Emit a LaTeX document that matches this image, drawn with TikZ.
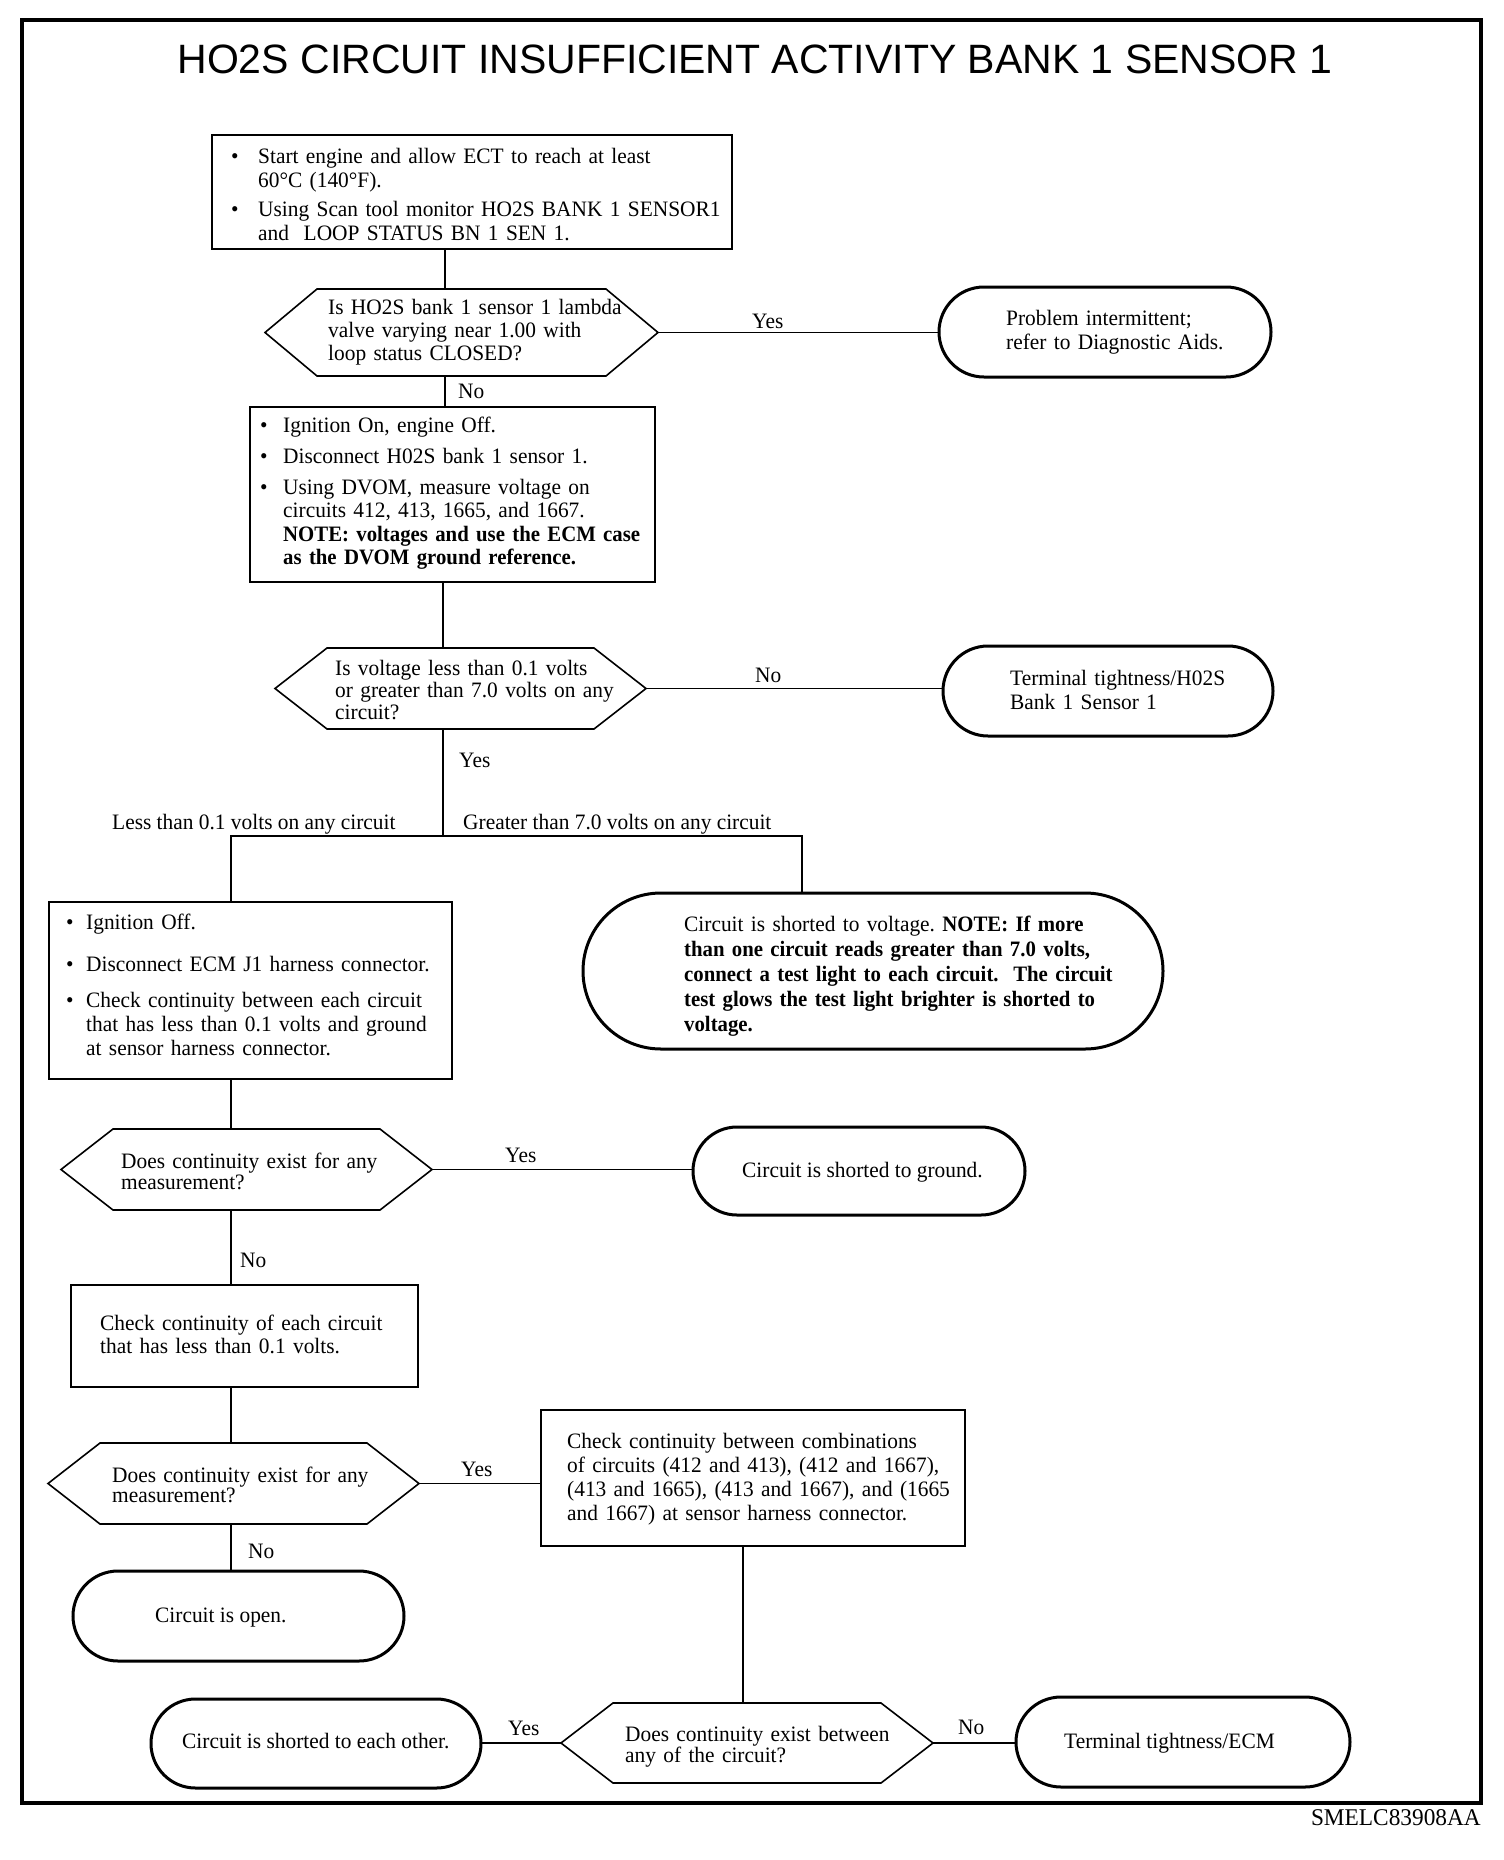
\documentclass[tikz,border=0pt]{standalone}
\usepackage{fontspec}
\setmainfont{Liberation Serif}[FakeStretch=0.972, BoldFeatures={FakeStretch=0.945}]
\newfontfamily\titlefont{Liberation Sans}
\newcommand\hexdraw[2]{\draw[hexline] ([xshift=#2]#1.north west) -- ([xshift=-#2]#1.north east) -- (#1.east) -- ([xshift=-#2]#1.south east) -- ([xshift=#2]#1.south west) -- (#1.west) -- cycle;}
\newcommand\bul[1]{\makebox[#1][l]{\textbullet}}
\frenchspacing
\begin{document}
\begin{tikzpicture}[x=1pt,y=-1pt,
  box/.style={draw, line width=2.2pt, rectangle, inner sep=0pt, outer sep=0pt},
  term/.style={draw, line width=3pt, rectangle, rounded corners=#1, inner sep=0pt, outer sep=0pt},
  hexn/.style={rectangle, inner sep=0pt, outer sep=0pt},
  hexline/.style={line width=1.6pt, line join=miter},
  conn/.style={line width=1.8pt},
  txt/.style={anchor=base west, inner sep=0pt, text width=700pt, align=left, font=\fontsize{22pt}{#1}\selectfont},
  lbl/.style={anchor=base west, inner sep=0pt, font=\fontsize{22pt}{24pt}\selectfont}]
\useasboundingbox (0,0) rectangle (1504,1860);
% frame, title, caption
\draw[line width=4pt] (22,20) rectangle (1481,1803);
\node[anchor=base, inner sep=0pt, font=\titlefont\fontsize{41pt}{41pt}\selectfont] (title) at (755,74) {HO2S CIRCUIT INSUFFICIENT ACTIVITY BANK 1 SENSOR 1};
\node[anchor=base east, inner sep=0pt, font=\fontsize{24pt}{24pt}\selectfont] (cap) at (1481,1825) {SMELC83908AA};
% shapes
\node[box, minimum width=520pt, minimum height=114pt] (b1) at (472,192) {};
\node[hexn, minimum width=393pt, minimum height=87pt] (d1) at (461.5,332.5) {};
\node[term=45pt, minimum width=332pt, minimum height=90pt] (o1) at (1105,332) {};
\node[box, minimum width=405pt, minimum height=175pt] (b2) at (452.5,494.5) {};
\node[hexn, minimum width=371pt, minimum height=81pt] (d2) at (460.5,688.5) {};
\node[term=45pt, minimum width=330pt, minimum height=90pt] (o2) at (1108,691) {};
\node[box, minimum width=403pt, minimum height=177pt] (b3) at (250.5,990.5) {};
\node[term=78pt, minimum width=580pt, minimum height=156pt] (o3) at (873,971) {};
\node[hexn, minimum width=371pt, minimum height=81pt] (d3) at (246.5,1169.5) {};
\node[term=44pt, minimum width=332pt, minimum height=88pt] (o4) at (859,1171) {};
\node[box, minimum width=347pt, minimum height=102pt] (b4) at (244.5,1336) {};
\node[hexn, minimum width=371pt, minimum height=81pt] (d4) at (233.5,1483.5) {};
\node[box, minimum width=424pt, minimum height=136pt] (b5) at (753,1478) {};
\node[term=45pt, minimum width=331pt, minimum height=90pt] (o5) at (238.5,1616) {};
\node[hexn, minimum width=372pt, minimum height=80pt] (d5) at (747,1743) {};
\node[term=44.5pt, minimum width=330pt, minimum height=89pt] (o6) at (316,1743.5) {};
\node[term=45pt, minimum width=334pt, minimum height=90pt] (o7) at (1183,1742) {};
\hexdraw{d1}{52pt}
\hexdraw{d2}{52pt}
\hexdraw{d3}{52pt}
\hexdraw{d4}{52pt}
\hexdraw{d5}{52pt}
% connectors
\coordinate (xa) at (445,0);
\coordinate (xb) at (443,0);
\coordinate (xl) at (231,0);
\coordinate (xr) at (802,0);
\coordinate (xc) at (743,0);
\coordinate (by) at (0,836);
\coordinate (jm) at (xb |- by);
\coordinate (jl) at (xl |- by);
\coordinate (jr) at (xr |- by);
\draw[conn] (b1.south -| xa) -- (d1.north -| xa);
\draw[conn] (d1.south -| xa) -- (b2.north -| xa);
\draw[conn] (b2.south -| xb) -- (d2.north -| xb);
\draw[conn] (d2.south -| xb) -- (jm);
\draw[conn] (b3.north -| xl) -- (jl) -- (jr) -- (o3.north -| xr);
\draw[conn] (b3.south -| xl) -- (d3.north -| xl);
\draw[conn] (d3.south -| xl) -- (b4.north -| xl);
\draw[conn] (b4.south -| xl) -- (d4.north -| xl);
\draw[conn] (d4.south -| xl) -- (o5.north -| xl);
\draw[conn] (b5.south -| xc) -- (d5.north -| xc);
\draw[conn] (d1.east) -- (d1.east -| o1.west);
\draw[conn] (d2.east) -- (d2.east -| o2.west);
\draw[conn] (d3.east) -- (d3.east -| o4.west);
\draw[conn] (d4.east) -- (d4.east -| b5.west);
\draw[conn] (d5.west) -- (d5.west -| o6.east);
\draw[conn] (d5.east) -- (d5.east -| o7.west);
% connector labels
\node[lbl] (l1) at (752,328) {Yes};
\node[lbl] (l2) at (458,398) {No};
\node[lbl] (l3) at (755,682) {No};
\node[lbl] (l4) at (459,767) {Yes};
\node[lbl] (l5) at (112,829) {Less than 0.1 volts on any circuit};
\node[lbl] (l6) at (463,829) {Greater than 7.0 volts on any circuit};
\node[lbl] (l7) at (505,1162) {Yes};
\node[lbl] (l8) at (240,1267) {No};
\node[lbl] (l9) at (461,1476) {Yes};
\node[lbl] (l10) at (248,1558) {No};
\node[lbl] (l11) at (508,1735) {Yes};
\node[lbl] (l12) at (958,1734) {No};
% texts
\node[txt=24pt] (t1) at (231,163) {\bul{27pt}Start engine and allow ECT to reach at least\\ \hspace*{27pt}60°C (140°F).\\[5pt] \bul{27pt}Using Scan tool monitor HO2S BANK 1 SENSOR1\\ \hspace*{27pt}and\ \ LOOP STATUS BN 1 SEN 1.};
\node[txt=23pt] (t2) at (328,314) {Is HO2S bank 1 sensor 1 lambda\\ valve varying near 1.00 with\\ loop status CLOSED?};
\node[txt=24pt] (t3) at (1006,325) {Problem intermittent;\\ refer to Diagnostic Aids.};
\node[txt=23.5pt] (t4) at (260,432) {\bul{23pt}Ignition On, engine Off.\\[7.5pt] \bul{23pt}Disconnect H02S bank 1 sensor 1.\\[7.5pt] \bul{23pt}Using DVOM, measure voltage on\\ \hspace*{23pt}circuits 412, 413, 1665, and 1667.\\ \hspace*{23pt}\bfseries NOTE: voltages and use the ECM case\\ \hspace*{23pt}as the DVOM ground reference.};
\node[txt=22pt] (t5) at (335,675) {Is voltage less than 0.1 volts\\ or greater than 7.0 volts on any\\ circuit?};
\node[txt=24pt] (t6) at (1010,685) {Terminal tightness/H02S\\ Bank 1 Sensor 1};
\node[txt=24pt] (t7) at (66,929) {\bul{20pt}Ignition Off.\\[18pt] \bul{20pt}Disconnect ECM J1 harness connector.\\[12pt] \bul{20pt}Check continuity between each circuit\\ \hspace*{20pt}that has less than 0.1 volts and ground\\ \hspace*{20pt}at sensor harness connector.};
\node[txt=25pt] (t8) at (684,931) {Circuit is shorted to voltage. \bfseries NOTE: If more\\ than one circuit reads greater than 7.0 volts,\\ connect a test light to each circuit.\ \ The circuit\\ test glows the test light brighter is shorted to\\ voltage.};
\node[txt=21pt] (t9) at (121,1168) {Does continuity exist for any\\ measurement?};
\node[lbl] (t10) at (742,1177) {Circuit is shorted to ground.};
\node[txt=23pt] (t11) at (100,1330) {Check continuity of each circuit\\ that has less than 0.1 volts.};
\node[txt=20pt] (t12) at (112,1482) {Does continuity exist for any\\ measurement?};
\node[txt=24.3pt] (t13) at (567,1448) {Check continuity between combinations\\ of circuits (412 and 413), (412 and 1667),\\ (413 and 1665), (413 and 1667), and (1665\\ and 1667) at sensor harness connector.};
\node[lbl] (t14) at (155,1622) {Circuit is open.};
\node[lbl] (t15) at (182,1748) {Circuit is shorted to each other.};
\node[txt=21pt] (t16) at (625,1741) {Does continuity exist between\\ any of the circuit?};
\node[lbl] (t17) at (1064,1748) {Terminal tightness/ECM};
\end{tikzpicture}
\end{document}
